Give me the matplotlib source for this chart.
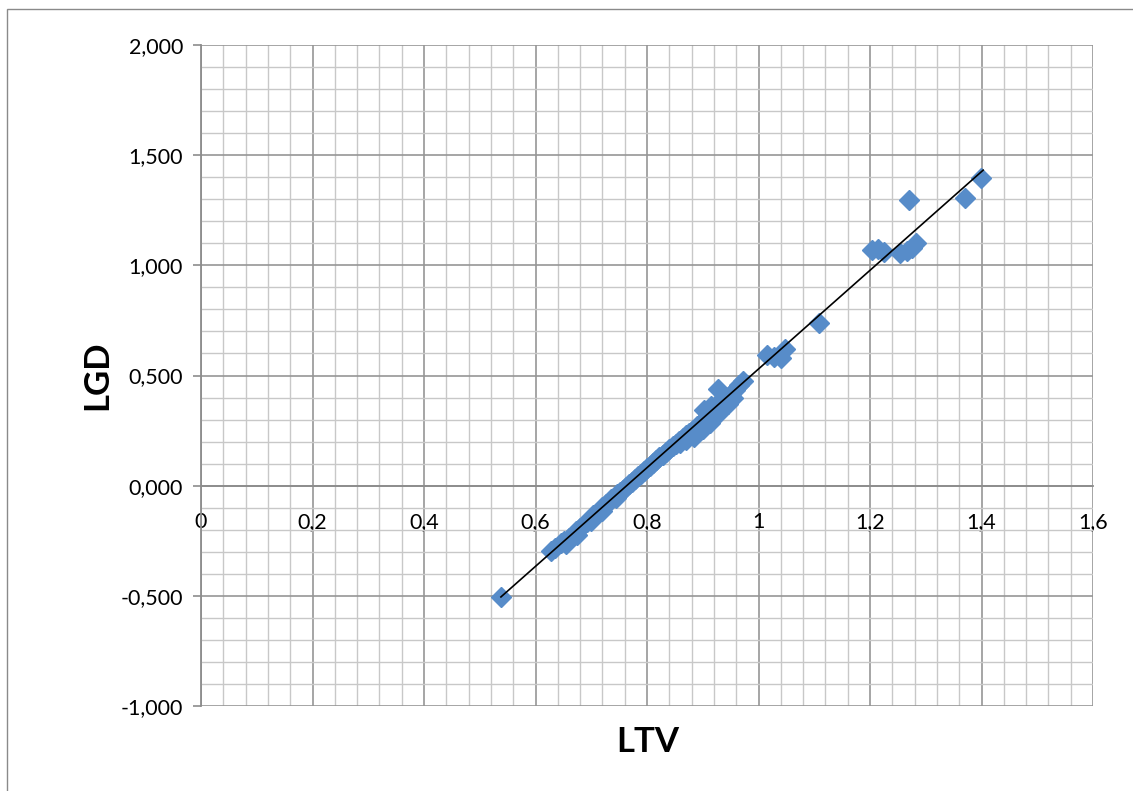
import matplotlib.pyplot as plt
import numpy as np
from matplotlib.patches import Rectangle
from matplotlib.ticker import MultipleLocator, FixedLocator

plt.rcParams['font.family'] = ['Lato', 'DejaVu Sans']

# LTV / LGD points
ltv = [0.538, 0.628, 0.635, 0.645, 0.652, 0.655, 0.660, 0.668, 0.672, 0.675,
       0.680, 0.686, 0.692, 0.698, 0.700, 0.704, 0.710, 0.715, 0.720, 0.720,
       0.726, 0.731, 0.736, 0.742, 0.745, 0.747, 0.752, 0.757, 0.762, 0.768,
       0.773, 0.778, 0.784, 0.789, 0.794, 0.800, 0.805, 0.811, 0.816, 0.822,
       0.828, 0.834, 0.840, 0.846, 0.852, 0.858, 0.860, 0.864, 0.870, 0.870,
       0.876, 0.882, 0.885, 0.890, 0.898, 0.900, 0.905, 0.903, 0.910, 0.913,
       0.915, 0.925, 0.928, 0.930, 0.935, 0.942, 0.945, 0.950, 0.955, 0.958,
       0.965, 0.972, 1.015, 1.028, 1.041, 1.048, 1.108, 1.204, 1.214, 1.225,
       1.254, 1.266, 1.275, 1.283, 1.270, 1.370, 1.399]
lgd = [-0.505, -0.297, -0.285, -0.262, -0.250, -0.265, -0.238, -0.222, -0.205, -0.225,
       -0.190, -0.178, -0.163, -0.150, -0.160, -0.135, -0.122, -0.113, -0.098, -0.115,
       -0.085, -0.075, -0.062, -0.050, -0.058, -0.040, -0.027, -0.018, -0.005, 0.008,
       0.018, 0.030, 0.043, 0.055, 0.065, 0.080, 0.090, 0.103, 0.115, 0.128,
       0.140, 0.153, 0.165, 0.178, 0.190, 0.203, 0.195, 0.215, 0.228, 0.205,
       0.240, 0.252, 0.222, 0.270, 0.290, 0.255, 0.305, 0.345, 0.325, 0.284,
       0.360, 0.370, 0.440, 0.330, 0.385, 0.400, 0.370, 0.415, 0.400, 0.435,
       0.455, 0.475, 0.593, 0.582, 0.580, 0.620, 0.738, 1.069, 1.072, 1.062,
       1.058, 1.065, 1.080, 1.100, 1.296, 1.305, 1.396]

# end points of the linear trend line as drawn in the chart
trend_ltv = [0.538, 1.403]
trend_lgd = [-0.505, 1.432]

x_ticks = [0, 0.2, 0.4, 0.6, 0.8, 1.0, 1.2, 1.4, 1.6]
x_labels = ['0', '0,2', '0,4', '0,6', '0,8', '1', '1,2', '1,4', '1,6']
y_ticks = [-1.0, -0.5, 0.0, 0.5, 1.0, 1.5, 2.0]
y_labels = ['-1,000', '-0,500', '0,000', '0,500', '1,000', '1,500', '2,000']

W, H = 1133, 791
fig = plt.figure(figsize=(W / 100, H / 100), dpi=100)
ax = fig.add_axes([201 / W, 1 - 706 / H, (1093 - 201) / W, (706 - 45) / H])

ax.set_xlim(0, 1.6)
ax.set_ylim(-1, 2)

ax.xaxis.set_major_locator(FixedLocator(x_ticks))
ax.yaxis.set_major_locator(FixedLocator(y_ticks))
ax.xaxis.set_minor_locator(MultipleLocator(0.04))
ax.yaxis.set_minor_locator(MultipleLocator(0.1))
ax.set_xticklabels(x_labels)
ax.set_yticklabels(y_labels)

ax.set_axisbelow(True)
ax.grid(which='minor', color='#c8c8c8', lw=1.0)
ax.grid(which='major', color='#969696', lw=1.2)

for s in ['top', 'right']:
    ax.spines[s].set_visible(False)
ax.spines['bottom'].set_position(('data', 0))
ax.spines['bottom'].set_color('#8c8c8c')
ax.spines['bottom'].set_linewidth(1.3)
ax.spines['left'].set_color('#8c8c8c')
ax.spines['left'].set_linewidth(1.3)

ax.tick_params(axis='y', which='major', direction='out', length=6, width=1.2,
               color='#8c8c8c', pad=7, labelsize=15.5)
ax.tick_params(axis='x', which='major', length=0, pad=19, labelsize=15.5)
ax.tick_params(which='minor', length=0)

ax.plot(ltv, lgd, 'D', ms=10.5, color='#578cc9', mec='#578cc9', zorder=3)

# linear trend line
ax.plot(trend_ltv, trend_lgd, color='black', lw=1.2, zorder=4)

fig.text(648 / W, 1 - 742 / H, 'LTV', ha='center', va='center',
         fontsize=25, fontweight='bold')
fig.text(97 / W, 1 - 375 / H, 'LGD', ha='center', va='center',
         fontsize=25, fontweight='bold', rotation=90)

fig.patches.append(Rectangle((7 / W, -0.1), 1.2, 1 - 9 / H + 0.1,
                             transform=fig.transFigure, fill=False,
                             ec='#8a8a8a', lw=1.0))

fig.savefig('out.png', dpi=100)
